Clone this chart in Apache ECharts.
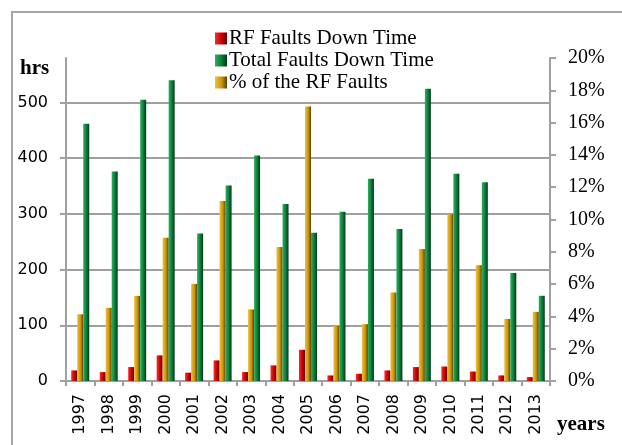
<!DOCTYPE html>
<html>
<head>
<meta charset="utf-8">
<script src="https://cdn.jsdelivr.net/npm/echarts@6/dist/echarts.min.js"></script>
<style>
html,body{margin:0;padding:0;background:#fff;}
#c{width:622px;height:445px;}
</style>
</head>
<body>
<div id="c"></div>
<script>
var years = ['1997','1998','1999','2000','2001','2002','2003','2004','2005','2006','2007','2008','2009','2010','2011','2012','2013'];
var rfDownTime = [19, 16, 25, 46, 15, 37, 16, 28, 56, 10, 13, 19, 25, 26, 17, 10, 7];
var totalDownTime = [462, 376, 505, 540, 265, 351, 405, 318, 266, 304, 363, 273, 525, 372, 357, 194, 153];
var rfPercent = [4.13, 4.53, 5.27, 8.87, 6.01, 11.14, 4.43, 8.29, 16.99, 3.41, 3.52, 5.48, 8.17, 10.33, 7.17, 3.84, 4.28];
var hrsTicks = [0, 100, 200, 300, 400, 500];

function grad(light, main, dark) {
  return new echarts.graphic.LinearGradient(0, 0, 1, 0, [
    {offset: 0, color: light},
    {offset: 0.55, color: main},
    {offset: 1, color: dark}
  ]);
}

var chart = echarts.init(document.getElementById('c'), null, {renderer: 'canvas'});
var grey = '#a0a0a0';
chart.setOption({
  animation: false,
  backgroundColor: '#fff',
  grid: {left: 66, right: 72, top: 58, bottom: 64, containLabel: false},
  legend: {
    orient: 'vertical',
    left: 210,
    top: 23,
    itemWidth: 12,
    itemHeight: 12,
    itemGap: 1,
    icon: 'rect',
    data: ['RF Faults Down Time', 'Total Faults Down Time', '% of the RF Faults'],
    textStyle: {fontFamily: 'Liberation Serif', fontSize: 21, color: '#000', padding: [0, 0, 0, -3]}
  },
  xAxis: {
    type: 'category',
    data: years,
    boundaryGap: true,
    axisLine: {lineStyle: {color: grey, width: 2}},
    axisTick: {show: true, length: 5, lineStyle: {color: grey, width: 2}},
    axisLabel: {rotate: 90, margin: 13, fontFamily: 'DejaVu Sans', fontSize: 16, color: '#000'}
  },
  yAxis: [
    {
      type: 'value', min: 0, max: 580, interval: 100, position: 'left',
      axisLine: {show: true, lineStyle: {color: grey, width: 2}},
      axisTick: {show: true, length: 6, customValues: hrsTicks, lineStyle: {color: grey, width: 2}},
      axisLabel: {margin: 18, customValues: hrsTicks, fontFamily: 'DejaVu Sans', fontSize: 16, color: '#000',
        formatter: function (v) { return v % 100 === 0 ? String(v) : ''; }},
      splitLine: {show: true, lineStyle: {color: [grey, grey, grey, grey, grey, grey, 'rgba(0,0,0,0)'], width: 2}}
    },
    {
      type: 'value', min: 0, max: 20, interval: 2, position: 'right',
      axisLine: {show: true, lineStyle: {color: grey, width: 2}},
      axisTick: {show: true, length: 6, lineStyle: {color: grey, width: 2}},
      axisLabel: {margin: 18, fontFamily: 'Liberation Serif', fontSize: 20, color: '#000', formatter: '{value}%'},
      splitLine: {show: false}
    }
  ],
  series: [
    {
      name: 'RF Faults Down Time', type: 'bar', yAxisIndex: 0, data: rfDownTime,
      barWidth: 6, barGap: '0%',
      itemStyle: {color: grad('#f03030', '#c80000', '#6a0000')}
    },
    {
      name: '% of the RF Faults', type: 'bar', yAxisIndex: 1, data: rfPercent,
      barWidth: 6, barGap: '0%',
      itemStyle: {color: grad('#f0c040', '#c8960a', '#5a4000')}
    },
    {
      name: 'Total Faults Down Time', type: 'bar', yAxisIndex: 0, data: totalDownTime,
      barWidth: 6, barGap: '0%',
      itemStyle: {color: grad('#30b060', '#0c7a38', '#023818')}
    }
  ],
  graphic: [
    {type: 'rect', shape: {x: 12, y: 12, width: 640, height: 460}, style: {fill: 'none', stroke: '#a6a6a6', lineWidth: 2}, z: 100},
    {type: 'text', left: 20, top: 58, style: {text: 'hrs', font: 'bold 21px "Liberation Serif"', fill: '#000'}},
    {type: 'text', left: 557, top: 414, style: {text: 'years', font: 'bold 21px "Liberation Serif"', fill: '#000'}}
  ]
});
</script>
</body>
</html>
